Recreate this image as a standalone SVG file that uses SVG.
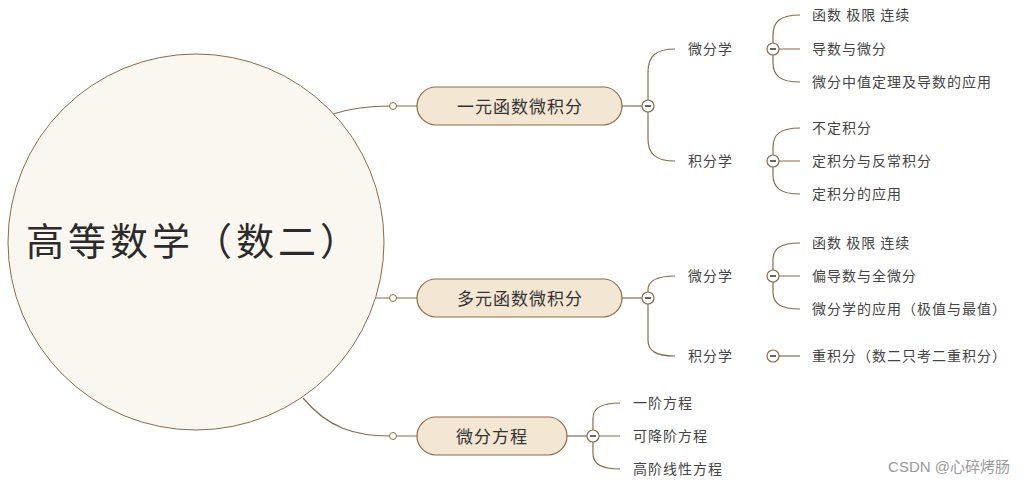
<svg xmlns="http://www.w3.org/2000/svg" width="1024" height="485" viewBox="0 0 1024 485">
<style>
text{font-family:"Noto Sans CJK SC","Noto Sans",sans-serif;dominant-baseline:central}
.ln{fill:none;stroke:#8b6b47;stroke-width:1.2}
.box{fill:#f3e6d3;stroke:#8b6b47;stroke-width:1.2}
.main{font-size:17px;fill:#333;text-anchor:middle;letter-spacing:1px}
.sub{font-size:14px;fill:#444;letter-spacing:1px}
.col{fill:#fff;stroke:#8b6b47;stroke-width:1.2}
.minus{stroke:#333;stroke-width:1.5}
.dot{fill:#fff;stroke:#8b6b47;stroke-width:1}
</style>
<defs>
<g id="collapse"><circle class="col" r="6"/><line class="minus" x1="-3" y1="0" x2="3" y2="0"/></g>
</defs>
<g id="connectors">
<path class="ln" d="M333,114 C352,108 368,106 390,106 M396,106 H417"/>
<path class="ln" d="M376,298 H390 M396,298 H417"/>
<path class="ln" d="M303,398 C328,428 355,436 390,436 M396,436 H417"/>
<path class="ln" d="M622,106 H642"/>
<path class="ln" d="M622,298 H642"/>
<path class="ln" d="M567,436 H587"/>
<path class="ln" d="M648,100 V72 C648,56 656,49 675,49 M648,112 V139 C648,154 656,161 675,161"/>
<path class="ln" d="M773,43 V35 C773,21 781,15 800,15 M779,49 H800 M773,55 V63 C773,76 781,82 800,82"/>
<path class="ln" d="M773,155 V147 C773,134 781,128 800,128 M779,161 H800 M773,167 V175 C773,188 781,194 800,194"/>
<path class="ln" d="M648,292 V290 C648,281 656,276 675,276 M648,304 V340 C648,351 656,356 675,356"/>
<path class="ln" d="M773,270 V260 C773,248 781,243 800,243 M779,276 H800 M773,282 V292 C773,304 781,309 800,309"/>
<path class="ln" d="M779,356 H800"/>
<path class="ln" d="M593,430 V418 C593,408 601,403 620,403 M599,436 H620 M593,442 V454 C593,464 601,469 620,469"/>
<circle class="dot" cx="393" cy="106" r="3.5"/>
<circle class="dot" cx="393" cy="298" r="3.5"/>
<circle class="dot" cx="393" cy="436" r="3.5"/>
<use href="#collapse" x="648" y="106"/>
<use href="#collapse" x="648" y="298"/>
<use href="#collapse" x="593" y="436"/>
<use href="#collapse" x="773" y="49"/>
<use href="#collapse" x="773" y="161"/>
<use href="#collapse" x="773" y="276"/>
<use href="#collapse" x="773" y="356"/>
</g>
<g id="root">
<circle cx="196" cy="242" r="188" fill="#faf7f0" stroke="#8b6b47" stroke-width="1"/>
<text x="194" y="238" font-size="38" fill="#2b2b2b" text-anchor="middle" letter-spacing="4">高等数学（数二）</text>
</g>
<g id="n1"><rect class="box" x="417" y="87" width="205" height="38" rx="19"/><text class="main" x="520" y="105">一元函数微积分</text></g>
<g id="n2"><rect class="box" x="417" y="279" width="205" height="38" rx="19"/><text class="main" x="520" y="297">多元函数微积分</text></g>
<g id="n3"><rect class="box" x="417" y="417" width="150" height="38" rx="19"/><text class="main" x="492" y="435">微分方程</text></g>
<g id="n1a"><text class="sub" x="688" y="48">微分学</text></g>
<g id="n1b"><text class="sub" x="688" y="160">积分学</text></g>
<g id="n1a1"><text class="sub" x="812" y="14">函数 极限 连续</text></g>
<g id="n1a2"><text class="sub" x="812" y="48">导数与微分</text></g>
<g id="n1a3"><text class="sub" x="812" y="81">微分中值定理及导数的应用</text></g>
<g id="n1b1"><text class="sub" x="812" y="127">不定积分</text></g>
<g id="n1b2"><text class="sub" x="812" y="160">定积分与反常积分</text></g>
<g id="n1b3"><text class="sub" x="812" y="193">定积分的应用</text></g>
<g id="n2a"><text class="sub" x="688" y="275">微分学</text></g>
<g id="n2b"><text class="sub" x="688" y="355">积分学</text></g>
<g id="n2a1"><text class="sub" x="812" y="242">函数 极限 连续</text></g>
<g id="n2a2"><text class="sub" x="812" y="275">偏导数与全微分</text></g>
<g id="n2a3"><text class="sub" x="812" y="308">微分学的应用（极值与最值）</text></g>
<g id="n2b1"><text class="sub" x="812" y="355">重积分（数二只考二重积分）</text></g>
<g id="n3a"><text class="sub" x="633" y="402">一阶方程</text></g>
<g id="n3b"><text class="sub" x="633" y="435">可降阶方程</text></g>
<g id="n3c"><text class="sub" x="633" y="468">高阶线性方程</text></g>
<text x="1010" y="466" font-size="15" fill="#999" text-anchor="end" style="font-family:'Liberation Sans','Noto Sans CJK SC',sans-serif">CSDN @心碎烤肠</text>
</svg>
